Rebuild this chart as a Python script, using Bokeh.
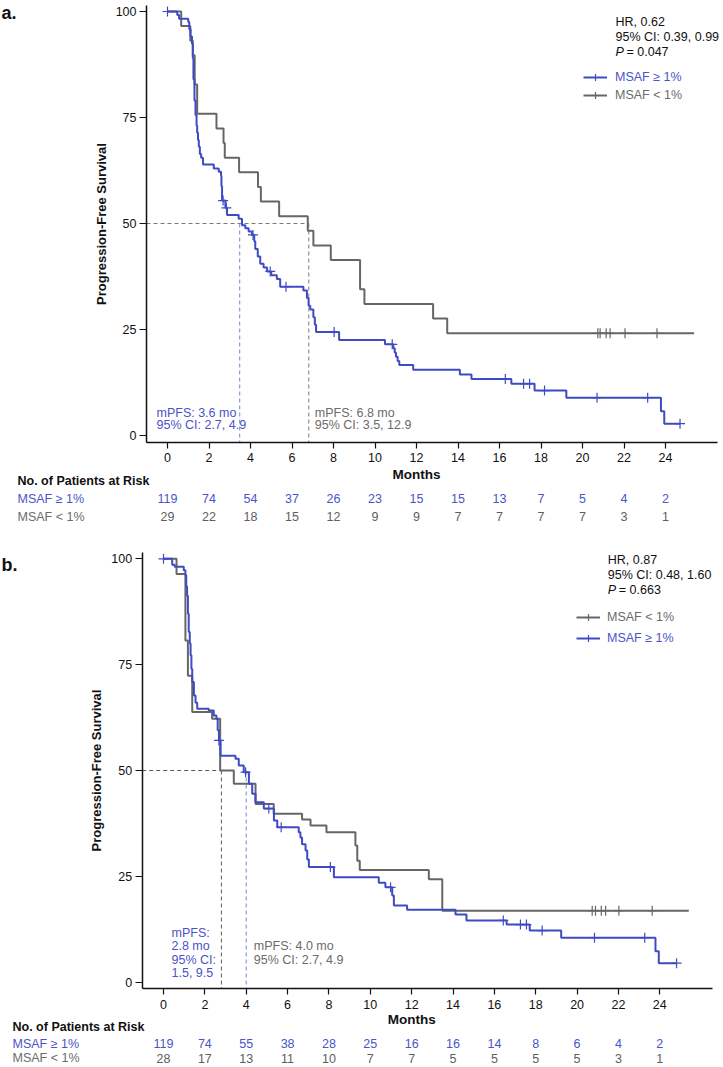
import numpy as np
from bokeh.plotting import figure
from bokeh.models import Range1d, FixedTicker, Label, Legend, LegendItem
from bokeh.layouts import column
from bokeh.embed import file_html
from bokeh.resources import INLINE

FONT = "Liberation Sans"
BLUE = "#3F4BC4"
BLUE_TXT = "#4A54C9"
BLUE_DASH = "#7C84DC"
GRAY = "#666666"
GRAY_TXT = "#6B6B6B"
GRAY_DASH = "#7A7A7A"
BLACK = "#111111"

# ---------------- data ----------------
risk_times = [0, 2, 4, 6, 8, 10, 12, 14, 16, 18, 20, 22, 24]
y_ticks = [0, 25, 50, 75, 100]

# Panel a
a_hi_times = [0.47, 0.56, 1.00, 1.05, 1.11, 1.18, 1.22, 1.25, 1.30, 1.35, 1.40, 1.43, 1.47, 1.51,
              1.56, 1.62, 1.71, 2.23, 2.47, 2.58, 2.60, 2.63, 2.79, 2.87, 3.43, 3.59, 3.75, 3.91,
              4.07, 4.18, 4.23, 4.35, 4.47, 4.63, 4.80, 5.00, 5.27, 5.43, 6.55, 6.72, 6.80, 6.88,
              7.03, 7.10, 7.16, 8.27, 10.48, 10.88, 10.95, 11.01, 11.09, 11.17, 11.84, 14.09,
              14.65, 16.57, 17.69, 19.22, 23.78, 23.94]
a_hi_surv = [99.2, 98.3, 97.5, 95.8, 94.1, 92.4, 89.0, 84.0, 79.0, 75.6, 73.1, 71.4, 69.7, 68.1,
             66.4, 65.5, 63.9, 63.0, 62.2, 61.3, 58.8, 55.4, 53.7, 52.0, 51.1, 49.6, 48.9, 48.1,
             47.3, 45.8, 44.0, 42.2, 40.5, 39.6, 38.7, 37.8, 36.9, 35.1, 34.2, 32.4, 30.6, 29.7,
             27.9, 26.1, 24.4, 22.5, 21.5, 20.6, 19.6, 18.6, 17.6, 16.6, 15.5, 14.4,
             13.3, 12.2, 10.6, 8.9, 5.7, 2.8]
a_hi_cens = [0.0, 2.68, 2.84, 4.12, 4.95, 5.71, 8.03, 10.83, 16.28, 17.16, 17.45, 18.17, 20.70, 23.14, 24.70]
a_hi_end = 24.70

a_lo_times = [0.66, 1.10, 1.22, 1.31, 1.43, 2.36, 2.70, 2.76, 3.45, 4.36, 4.50, 5.38, 6.76, 7.03,
              7.87, 9.28, 9.49, 12.80, 13.48]
a_lo_surv = [96.6, 93.1, 89.7, 82.8, 75.9, 72.4, 69.0, 65.5, 62.1, 58.6, 55.2, 51.7, 48.3, 44.8,
             41.4, 34.5, 31.0, 27.6, 24.1]
a_lo_cens = [20.74, 20.85, 21.14, 21.33, 22.05, 23.59]
a_lo_end = 25.38

a_median_hi = 3.48
a_median_lo = 6.81
a_risk_hi = [119, 74, 54, 37, 26, 23, 15, 15, 13, 7, 5, 4, 2]
a_risk_lo = [29, 22, 18, 15, 12, 9, 9, 7, 7, 7, 7, 3, 1]

# Panel b
b_hi_times = [0.42, 0.54, 0.98, 1.06, 1.10, 1.14, 1.18, 1.22, 1.27, 1.31, 1.35, 1.39, 1.47, 1.55,
              1.63, 2.19, 2.43, 2.56, 2.62, 2.68, 2.76, 3.48, 3.64, 3.88, 4.13, 4.29, 4.45, 4.85,
              5.34, 5.50, 6.54, 6.62, 6.70, 6.87, 6.95, 7.03, 8.24, 10.41, 10.73, 11.06, 11.14,
              11.78, 14.12, 14.65, 16.59, 17.71, 19.23, 23.79, 23.95]
b_hi_surv = [98.6, 98.1, 97.3, 96.1, 93.5, 91.3, 87.0, 82.7, 80.0, 77.2, 74.0, 70.9, 67.7, 66.0,
             64.6, 64.2, 63.0, 62.2, 59.5, 57.1, 53.5, 52.8, 51.2, 49.6, 46.9, 44.5, 42.5, 41.0,
             38.2, 36.6, 35.4, 34.2, 32.6, 31.1, 29.0, 27.2, 24.8, 23.5, 22.4, 20.5, 18.1,
             17.1, 16.0, 14.6, 13.6, 12.2, 10.5, 7.3, 4.5]
b_hi_cens = [0.0, 2.68, 3.97, 5.09, 5.69, 8.07, 10.98, 16.43, 17.26, 17.55, 18.31, 20.84, 23.27, 24.81]
b_hi_end = 24.81

b_lo_times = [0.63, 1.06, 1.18, 1.39, 2.35, 2.74, 3.40, 4.45, 5.33, 6.70, 7.11, 7.88, 9.28, 9.37,
              9.49, 12.83, 13.48]
b_lo_surv = [96.4, 80.7, 72.4, 63.8, 62.2, 50.0, 46.9, 42.1, 39.8, 38.4, 37.0, 35.4, 32.3, 28.7,
             26.5, 24.3, 16.9]
b_lo_cens = [20.73, 20.89, 21.17, 21.38, 22.02, 23.63]
b_lo_end = 25.40

b_median_lo = 2.80
b_median_hi = 4.00
b_risk_hi = [119, 74, 55, 38, 28, 25, 16, 16, 14, 8, 6, 4, 2]
b_risk_lo = [28, 17, 13, 11, 10, 7, 7, 5, 5, 5, 5, 3, 1]

LBL_HI = "MSAF \u2265 1%"
LBL_LO = "MSAF < 1%"


def lab(p, x, y, text, color=BLACK, size="12.5px", style="normal", align="left", xu="screen", angle=0):
    p.add_layout(Label(x=x, y=y, x_units=xu, y_units="screen", text=text, text_color=color,
                       text_font=FONT, text_font_size=size, text_font_style=style,
                       text_align=align, text_baseline="middle", angle=angle))


def km(p, times, surv, cens, end, color):
    xs = [0.0] + list(times) + [end]
    ys = [100.0] + list(surv) + [surv[-1]]
    r_line = p.step(xs, ys, mode="after", line_color=color, line_width=2)
    vals = np.concatenate([[100.0], surv])
    cy = vals[np.searchsorted(np.array(times), np.array(cens), side="right")]
    r_c = p.scatter(cens, cy, marker="cross", size=10, line_color=color, line_width=1.2)
    return r_line, r_c


def legend(p, renderers, text, color, loc, standoff):
    lg = Legend(items=[LegendItem(label=text, renderers=list(renderers))], location=loc,
                orientation="vertical", glyph_width=24, glyph_height=18, label_height=18,
                label_standoff=standoff, spacing=0, padding=0, margin=0,
                border_line_color=None, background_fill_alpha=0,
                label_text_font=FONT, label_text_font_size="12.5px", label_text_color=color)
    p.add_layout(lg)


def base_fig(h, xr, yr, ax_x, ax_y, xb, yb):
    p = figure(width=723, height=h, min_border=0, x_range=Range1d(*xr),
               y_range=Range1d(*yr), output_backend="svg", toolbar_location=None,
               background_fill_color="white", border_fill_color="white")
    p.outline_line_color = None
    p.xgrid.visible = False
    p.ygrid.visible = False
    p.xaxis.ticker = FixedTicker(ticks=risk_times)
    p.yaxis.ticker = FixedTicker(ticks=y_ticks)
    p.xaxis.fixed_location = ax_x
    p.yaxis.fixed_location = ax_y
    p.xaxis.bounds = xb
    p.yaxis.bounds = yb
    for ax in (p.xaxis[0], p.yaxis[0]):
        ax.axis_line_width = 1.5
        ax.axis_line_color = BLACK
        ax.major_tick_line_color = BLACK
        ax.major_tick_line_width = 1.2
        ax.major_tick_in = 0
        ax.minor_tick_line_color = None
        ax.major_label_text_font = FONT
        ax.major_label_text_font_size = "12.5px"
        ax.major_label_text_color = BLACK
    p.xaxis.major_tick_out = 6
    p.xaxis.major_label_standoff = 5
    p.yaxis.major_tick_out = 7
    p.yaxis.major_label_standoff = 3
    return p


def risk_table(p, y_months, y_head, y_hi, y_lo, x_left, risk_hi, risk_lo):
    lab(p, 12, y_months, "Months", size="13.5px", style="bold", align="center", xu="data")
    lab(p, x_left, y_head, "No. of Patients at Risk", style="bold")
    lab(p, x_left, y_hi, LBL_HI, color=BLUE_TXT)
    lab(p, x_left, y_lo, LBL_LO, color=GRAY_TXT)
    for t, n1, n2 in zip(risk_times, risk_hi, risk_lo):
        lab(p, t, y_hi, str(n1), color=BLUE_TXT, align="center", xu="data")
        lab(p, t, y_lo, str(n2), color="#5E5E5E", align="center", xu="data")


# ---------------- panel a ----------------
HA = 545
xa = (-167 / 20.75, (723 - 167) / 20.75)
ya = ((435 - HA) / 4.24, 435 / 4.24)
pa = base_fig(HA, xa, ya, -1.65, -1.012, (-1.012, 26.506), (-1.65, 101.4))
pa.segment(x0=[-1.012], y0=[50], x1=[a_median_lo], y1=[50], line_color=GRAY_DASH, line_width=1, line_dash="4 3")
pa.segment(x0=[a_median_lo], y0=[50], x1=[a_median_lo], y1=[-1.65], line_color=GRAY_DASH, line_width=1, line_dash="4 3")
pa.segment(x0=[a_median_hi], y0=[50], x1=[a_median_hi], y1=[-1.65], line_color=BLUE_DASH, line_width=1, line_dash="4 3")
ra_lo = km(pa, a_lo_times, a_lo_surv, a_lo_cens, a_lo_end, GRAY)
ra_hi = km(pa, a_hi_times, a_hi_surv, a_hi_cens, a_hi_end, BLUE)
legend(pa, ra_hi, LBL_HI, BLUE_TXT, (583, 459), 8)
legend(pa, ra_lo, LBL_LO, GRAY_TXT, (583, 441), 8)
lab(pa, 101, HA - 223.5, "Progression-Free Survival", size="13px", style="bold", align="center", angle=np.pi / 2)
lab(pa, 1, HA - 12, "a.", size="18px", style="bold")
lab(pa, 615, HA - 21.7, "HR, 0.62")
lab(pa, 615, HA - 36.7, "95% CI: 0.39, 0.99")
lab(pa, 615, HA - 51.7, "P", style="italic")
lab(pa, 626, HA - 51.7, "= 0.047")
lab(pa, 156, HA - 412, "mPFS: 3.6 mo", color=BLUE_TXT)
lab(pa, 156, HA - 424.7, "95% CI: 2.7, 4.9", color=BLUE_TXT)
lab(pa, 314.3, HA - 412, "mPFS: 6.8 mo", color=GRAY_TXT)
lab(pa, 314.3, HA - 424.7, "95% CI: 3.5, 12.9", color=GRAY_TXT)
risk_table(pa, HA - 474, HA - 480.7, HA - 498.3, HA - 516, 17, a_risk_hi, a_risk_lo)

# ---------------- panel b ----------------
HB = 522
TB = 545  # page top of panel b
xb = (-163 / 20.68, (723 - 163) / 20.68)
yb = ((981.7 - TB - HB) / 4.234, (981.7 - TB) / 4.234)
pb = base_fig(HB, xb, yb, -1.56, -1.03, (-1.03, 26.56), (-1.56, 101.56))
pb.segment(x0=[-1.03], y0=[50], x1=[b_median_lo], y1=[50], line_color="#5A5A5A", line_width=1, line_dash="4 3")
pb.segment(x0=[b_median_lo], y0=[50], x1=[b_median_lo], y1=[-1.56], line_color="#5A5A5A", line_width=1, line_dash="4 3")
pb.segment(x0=[b_median_hi], y0=[50], x1=[b_median_hi], y1=[-1.56], line_color=BLUE_DASH, line_width=1, line_dash="4 3")
rb_lo = km(pb, b_lo_times, b_lo_surv, b_lo_cens, b_lo_end, GRAY)
rb_hi = km(pb, b_hi_times, b_hi_surv, b_hi_cens, b_hi_end, BLUE)
legend(pb, rb_lo, LBL_LO, GRAY_TXT, (576, 441.3), 7)
legend(pb, rb_hi, LBL_HI, BLUE_TXT, (576, 420), 7)


def yb_(page_y):
    return HB - (page_y - TB)


lab(pb, 96, yb_(770), "Progression-Free Survival", size="13px", style="bold", align="center", angle=np.pi / 2)
lab(pb, 1, yb_(564), "b.", size="18px", style="bold")
lab(pb, 607.3, yb_(559.3), "HR, 0.87")
lab(pb, 607.3, yb_(574), "95% CI: 0.48, 1.60")
lab(pb, 607.3, yb_(589), "P", style="italic")
lab(pb, 618.3, yb_(589), "= 0.663")
lab(pb, 171, yb_(932.7), "mPFS:", color=BLUE_TXT)
lab(pb, 171, yb_(945.7), "2.8 mo", color=BLUE_TXT)
lab(pb, 171, yb_(959), "95% CI:", color=BLUE_TXT)
lab(pb, 171, yb_(972.3), "1.5, 9.5", color=BLUE_TXT)
lab(pb, 253.3, yb_(945.7), "mPFS: 4.0 mo", color=GRAY_TXT)
lab(pb, 253.3, yb_(959), "95% CI: 2.7, 4.9", color=GRAY_TXT)
risk_table(pb, yb_(1019), yb_(1026), yb_(1043), yb_(1057.5), 12, b_risk_hi, b_risk_lo)

layout = column(pa, pb, spacing=0)
open("out.html", "w").write(file_html(layout, INLINE))
